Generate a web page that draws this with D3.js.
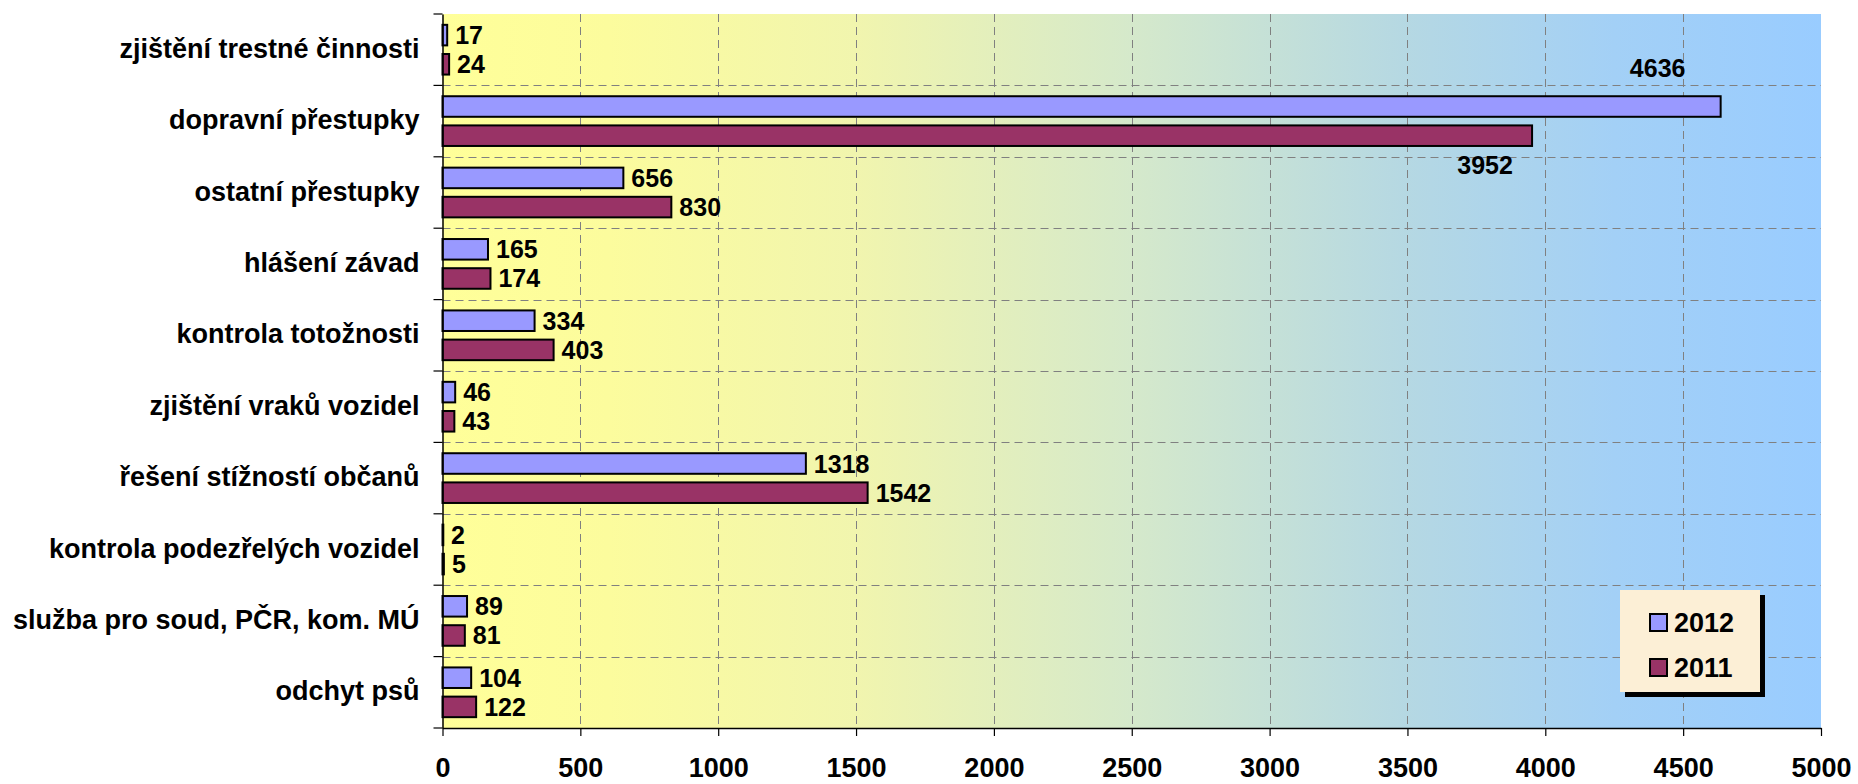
<!DOCTYPE html>
<html>
<head>
<meta charset="utf-8">
<script src="https://cdn.jsdelivr.net/npm/d3@7"></script>
<style>
  html, body { margin: 0; padding: 0; background: #ffffff; }
  svg { display: block; }
  text { font-family: "Liberation Sans", Arial, sans-serif; font-weight: bold; fill: #000; }
</style>
</head>
<body>
<svg id="chart" width="1858" height="784"></svg>
<script>
// ---- data ----
const categories = [
  "zjištění trestné činnosti",
  "dopravní přestupky",
  "ostatní přestupky",
  "hlášení závad",
  "kontrola totožnosti",
  "zjištění vraků vozidel",
  "řešení stížností občanů",
  "kontrola podezřelých vozidel",
  "služba pro soud, PČR, kom. MÚ",
  "odchyt psů"
];
const seriesNames = ["2012", "2011"];
const values2012 = [17, 4636, 656, 165, 334, 46, 1318, 2, 89, 104];
const values2011 = [24, 3952, 830, 174, 403, 43, 1542, 5, 81, 122];
const xTickValues = [0, 500, 1000, 1500, 2000, 2500, 3000, 3500, 4000, 4500, 5000];

// ---- styles ----
const seriesColors = { "2012": "#9999FF", "2011": "#993366" };
const plot = { left: 442.5, right: 1821, top: 14, bottom: 728 };

const svg = d3.select("#chart");

const x = d3.scaleLinear().domain([0, 5000]).range([plot.left, plot.right]);
const y0 = d3.scaleBand().domain(categories).range([plot.top, plot.bottom]).padding(0);
const y1 = d3.scaleBand().domain(seriesNames).range([0, y0.bandwidth()])
  .paddingInner(0.227).paddingOuter(0.337);

const rows = categories.map((c, i) => ({
  cat: c,
  vals: [
    { s: "2012", v: values2012[i] },
    { s: "2011", v: values2011[i] }
  ]
}));

// ---- background gradient ----
const defs = svg.append("defs");
const grad = defs.append("linearGradient").attr("id", "bg")
  .attr("x1", "0%").attr("x2", "100%").attr("y1", "0%").attr("y2", "0%");
[[0, "#FFFF99"], [0.12, "#FCFC9D"], [0.3, "#F1F5AE"], [0.5, "#D5E9CB"],
 [0.7, "#B5D8E3"], [0.85, "#A3D0F6"], [1, "#99CCFF"]].forEach(([o, c]) =>
  grad.append("stop").attr("offset", o).attr("stop-color", c));

svg.append("rect")
  .attr("x", plot.left).attr("y", plot.top)
  .attr("width", plot.right - plot.left).attr("height", plot.bottom - plot.top)
  .attr("fill", "url(#bg)");

// ---- gridlines ----
const grid = svg.append("g").attr("stroke", "#808080").attr("stroke-width", 1)
  .attr("stroke-dasharray", "8,5").attr("fill", "none");
grid.selectAll("line.v").data(xTickValues.filter(v => v > 0 && v < 5000)).join("line")
  .attr("class", "v")
  .attr("x1", d => Math.round(x(d)) + 0.5).attr("x2", d => Math.round(x(d)) + 0.5)
  .attr("y1", plot.top).attr("y2", plot.bottom);
grid.selectAll("line.h").data(categories.slice(1)).join("line")
  .attr("class", "h")
  .attr("x1", plot.left).attr("x2", plot.right)
  .attr("y1", d => Math.round(y0(d)) + 0.5).attr("y2", d => Math.round(y0(d)) + 0.5);

// ---- bars ----
const groups = svg.append("g").selectAll("g").data(rows).join("g")
  .attr("transform", d => `translate(0,${y0(d.cat)})`);

groups.selectAll("rect").data(d => d.vals).join("rect")
  .attr("x", x(0))
  .attr("y", d => y1(d.s) + 1)
  .attr("width", d => Math.max(x(d.v) - x(0), 0.8))
  .attr("height", y1.bandwidth() - 2)
  .attr("fill", d => seriesColors[d.s])
  .attr("stroke", "#000")
  .attr("stroke-width", 2);

// ---- value labels ----
groups.selectAll("text").data(d => d.vals.map(v => Object.assign({ cat: d.cat }, v))).join("text")
  .attr("font-size", 25)
  .each(function (d) {
    const t = d3.select(this);
    const barCenter = y1(d.s) + y1.bandwidth() / 2;
    if (d.cat === "dopravní přestupky") {
      if (d.s === "2012") {
        t.attr("x", x(d.v) - 63).attr("y", y1(d.s) - 18).attr("text-anchor", "middle");
      } else {
        t.attr("x", x(d.v) - 47).attr("y", y1(d.s) + y1.bandwidth() + 27).attr("text-anchor", "middle");
      }
    } else {
      t.attr("x", x(d.v) + 8).attr("y", barCenter).attr("dy", "0.36em").attr("text-anchor", "start");
    }
  })
  .text(d => d.v);

// ---- axes ----
const xAxis = d3.axisBottom(x).tickValues(xTickValues).tickSize(8).tickSizeOuter(0).tickPadding(22)
  .tickFormat(d3.format("d"));
const gx = svg.append("g").attr("transform", `translate(0,${plot.bottom})`).call(xAxis);
gx.select(".domain").attr("stroke", "#000").attr("stroke-width", 1.5);
gx.selectAll(".tick line").attr("stroke", "#000").attr("stroke-width", 1.2);
gx.selectAll(".tick text").attr("font-size", 27).attr("font-family", null).attr("fill", "#000");

const yAxis = d3.axisLeft(y0).tickSize(0).tickPadding(23);
const gy = svg.append("g").attr("transform", `translate(${plot.left},0)`).call(yAxis);
gy.select(".domain").attr("stroke", "#000").attr("stroke-width", 1.5);
gy.selectAll(".tick text").attr("font-size", 27).attr("font-family", null).attr("fill", "#000")
  .attr("dy", "0.3em");

// category boundary ticks on the left axis
const boundaries = categories.map(c => y0(c)).concat([y0.range()[1]]);
svg.append("g").selectAll("line").data(boundaries).join("line")
  .attr("x1", plot.left - 9).attr("x2", plot.left)
  .attr("y1", d => d).attr("y2", d => d)
  .attr("stroke", "#000").attr("stroke-width", 1.2);

// ---- legend ----
const legend = svg.append("g").attr("transform", "translate(1620,590)");
legend.append("rect").attr("x", 5).attr("y", 5).attr("width", 140).attr("height", 102).attr("fill", "#000");
legend.append("rect").attr("x", 0).attr("y", 0).attr("width", 140).attr("height", 102).attr("fill", "#FCEFD6");
const ly = d3.scaleBand().domain(seriesNames).range([10, 100]);
const items = legend.selectAll("g.item").data(seriesNames).join("g").attr("class", "item")
  .attr("transform", d => `translate(0,${ly(d) + ly.bandwidth() / 2})`);
items.append("rect").attr("x", 30).attr("y", -8.5).attr("width", 17).attr("height", 17)
  .attr("fill", d => seriesColors[d]).attr("stroke", "#000").attr("stroke-width", 2);
items.append("text").attr("x", 54).attr("y", 0).attr("dy", "0.36em")
  .attr("font-size", 27).text(d => d);
</script>
</body>
</html>
